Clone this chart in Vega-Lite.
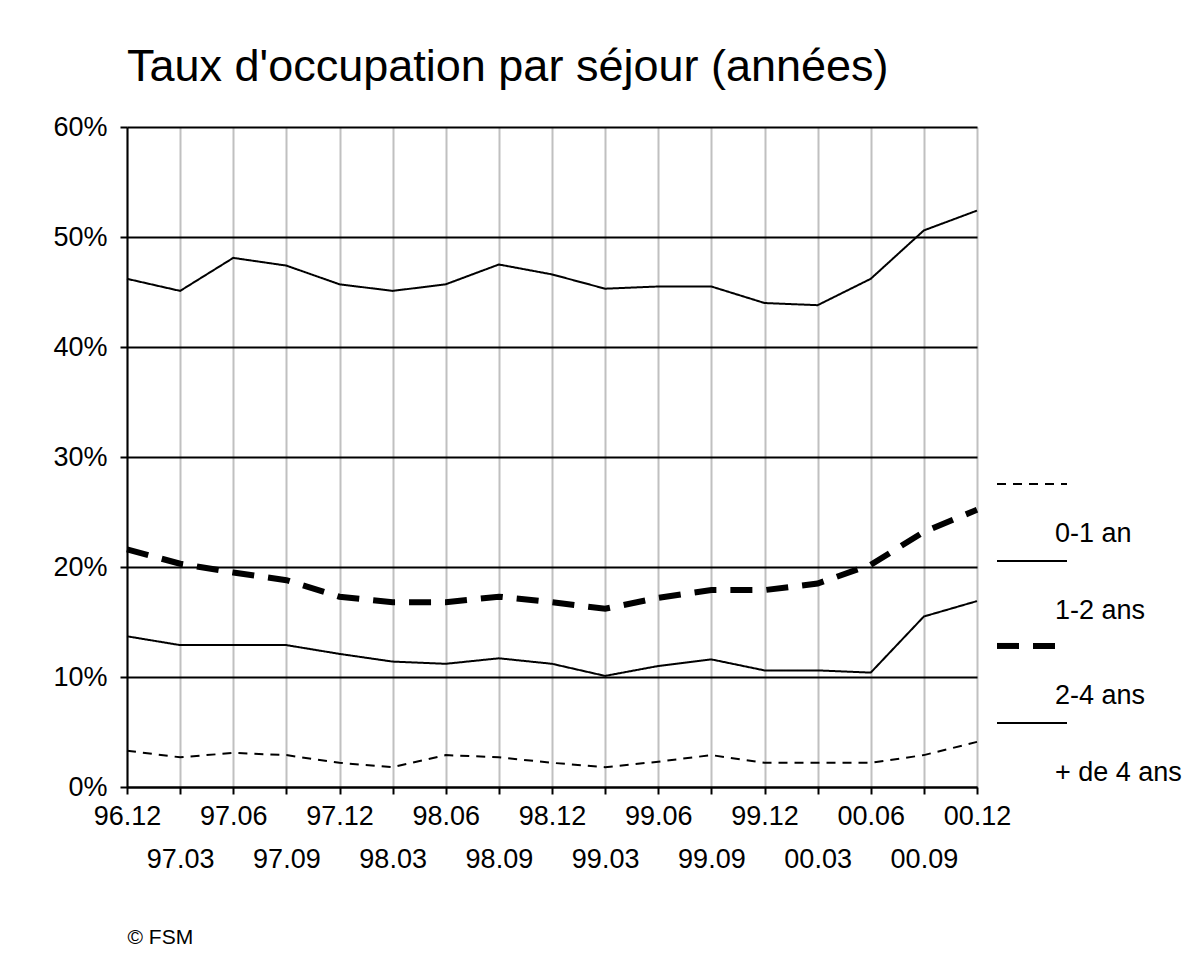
{
  "$schema": "https://vega.github.io/schema/vega-lite/v6.json",
  "width": 850,
  "height": 660,
  "autosize": {"type": "none"},
  "padding": {"left": 127, "top": 127, "right": 223, "bottom": 178},
  "background": "white",
  "config": {
    "font": "Liberation Sans",
    "view": {"stroke": null}
  },
  "title": {
    "text": "Taux d'occupation par séjour (années)",
    "anchor": "start",
    "frame": "group",
    "fontSize": 45,
    "fontWeight": "normal",
    "font": "Liberation Sans",
    "color": "black",
    "baseline": "alphabetic",
    "offset": -13
  },
  "data": {
    "values": [
      {"t": "96.12", "serie": "0-1 an", "v": 0.033},
      {"t": "97.03", "serie": "0-1 an", "v": 0.027},
      {"t": "97.06", "serie": "0-1 an", "v": 0.031},
      {"t": "97.09", "serie": "0-1 an", "v": 0.029},
      {"t": "97.12", "serie": "0-1 an", "v": 0.022},
      {"t": "98.03", "serie": "0-1 an", "v": 0.018},
      {"t": "98.06", "serie": "0-1 an", "v": 0.029},
      {"t": "98.09", "serie": "0-1 an", "v": 0.027},
      {"t": "98.12", "serie": "0-1 an", "v": 0.022},
      {"t": "99.03", "serie": "0-1 an", "v": 0.018},
      {"t": "99.06", "serie": "0-1 an", "v": 0.023},
      {"t": "99.09", "serie": "0-1 an", "v": 0.029},
      {"t": "99.12", "serie": "0-1 an", "v": 0.022},
      {"t": "00.03", "serie": "0-1 an", "v": 0.022},
      {"t": "00.06", "serie": "0-1 an", "v": 0.022},
      {"t": "00.09", "serie": "0-1 an", "v": 0.029},
      {"t": "00.12", "serie": "0-1 an", "v": 0.041},
      {"t": "96.12", "serie": "1-2 ans", "v": 0.137},
      {"t": "97.03", "serie": "1-2 ans", "v": 0.129},
      {"t": "97.06", "serie": "1-2 ans", "v": 0.129},
      {"t": "97.09", "serie": "1-2 ans", "v": 0.129},
      {"t": "97.12", "serie": "1-2 ans", "v": 0.121},
      {"t": "98.03", "serie": "1-2 ans", "v": 0.114},
      {"t": "98.06", "serie": "1-2 ans", "v": 0.112},
      {"t": "98.09", "serie": "1-2 ans", "v": 0.117},
      {"t": "98.12", "serie": "1-2 ans", "v": 0.112},
      {"t": "99.03", "serie": "1-2 ans", "v": 0.101},
      {"t": "99.06", "serie": "1-2 ans", "v": 0.110},
      {"t": "99.09", "serie": "1-2 ans", "v": 0.116},
      {"t": "99.12", "serie": "1-2 ans", "v": 0.106},
      {"t": "00.03", "serie": "1-2 ans", "v": 0.106},
      {"t": "00.06", "serie": "1-2 ans", "v": 0.104},
      {"t": "00.09", "serie": "1-2 ans", "v": 0.155},
      {"t": "00.12", "serie": "1-2 ans", "v": 0.169},
      {"t": "96.12", "serie": "2-4 ans", "v": 0.216},
      {"t": "97.03", "serie": "2-4 ans", "v": 0.203},
      {"t": "97.06", "serie": "2-4 ans", "v": 0.195},
      {"t": "97.09", "serie": "2-4 ans", "v": 0.188},
      {"t": "97.12", "serie": "2-4 ans", "v": 0.173},
      {"t": "98.03", "serie": "2-4 ans", "v": 0.168},
      {"t": "98.06", "serie": "2-4 ans", "v": 0.168},
      {"t": "98.09", "serie": "2-4 ans", "v": 0.173},
      {"t": "98.12", "serie": "2-4 ans", "v": 0.168},
      {"t": "99.03", "serie": "2-4 ans", "v": 0.162},
      {"t": "99.06", "serie": "2-4 ans", "v": 0.172},
      {"t": "99.09", "serie": "2-4 ans", "v": 0.179},
      {"t": "99.12", "serie": "2-4 ans", "v": 0.179},
      {"t": "00.03", "serie": "2-4 ans", "v": 0.185},
      {"t": "00.06", "serie": "2-4 ans", "v": 0.202},
      {"t": "00.09", "serie": "2-4 ans", "v": 0.232},
      {"t": "00.12", "serie": "2-4 ans", "v": 0.252},
      {"t": "96.12", "serie": "+ de 4 ans", "v": 0.462},
      {"t": "97.03", "serie": "+ de 4 ans", "v": 0.451},
      {"t": "97.06", "serie": "+ de 4 ans", "v": 0.481},
      {"t": "97.09", "serie": "+ de 4 ans", "v": 0.474},
      {"t": "97.12", "serie": "+ de 4 ans", "v": 0.457},
      {"t": "98.03", "serie": "+ de 4 ans", "v": 0.451},
      {"t": "98.06", "serie": "+ de 4 ans", "v": 0.457},
      {"t": "98.09", "serie": "+ de 4 ans", "v": 0.475},
      {"t": "98.12", "serie": "+ de 4 ans", "v": 0.466},
      {"t": "99.03", "serie": "+ de 4 ans", "v": 0.453},
      {"t": "99.06", "serie": "+ de 4 ans", "v": 0.455},
      {"t": "99.09", "serie": "+ de 4 ans", "v": 0.455},
      {"t": "99.12", "serie": "+ de 4 ans", "v": 0.440},
      {"t": "00.03", "serie": "+ de 4 ans", "v": 0.438},
      {"t": "00.06", "serie": "+ de 4 ans", "v": 0.462},
      {"t": "00.09", "serie": "+ de 4 ans", "v": 0.506},
      {"t": "00.12", "serie": "+ de 4 ans", "v": 0.524}
    ]
  },
  "mark": {"type": "line", "color": "black", "strokeCap": "butt", "strokeJoin": "miter"},
  "encoding": {
    "x": {
      "field": "t",
      "type": "ordinal",
      "sort": ["96.12","97.03","97.06","97.09","97.12","98.03","98.06","98.09","98.12","99.03","99.06","99.09","99.12","00.03","00.06","00.09","00.12"],
      "scale": {"type": "point", "padding": 0},
      "axis": {
        "title": "© FSM",
        "titleFontSize": 21,
        "titleFontWeight": "normal",
        "titleColor": "black",
        "titleAnchor": "start",
        "titleAlign": "left",
        "titleBaseline": "top",
        "titlePadding": 54,
        "labelAngle": 0,
        "labelFontSize": 27,
        "labelColor": "black",
        "labelPadding": 9,
        "labelBaseline": "top",
        "labelLineHeight": 43,
        "labelOverlap": false,
        "labelExpr": "(slice(datum.label, 3) == '03' || slice(datum.label, 3) == '09') ? ['', datum.label] : datum.label",
        "tickSize": 7,
        "tickWidth": 2,
        "tickColor": "black",
        "domainColor": "black",
        "domainWidth": 2,
        "grid": true,
        "gridColor": "#c0c0c0",
        "gridWidth": 2
      }
    },
    "y": {
      "field": "v",
      "type": "quantitative",
      "scale": {"domain": [0, 0.6], "nice": false},
      "axis": {
        "title": null,
        "format": ".0%",
        "values": [0, 0.1, 0.2, 0.3, 0.4, 0.5, 0.6],
        "labelFontSize": 27,
        "labelColor": "black",
        "labelPadding": 13,
        "tickSize": 7,
        "tickWidth": 2,
        "tickColor": "black",
        "domainColor": "black",
        "domainWidth": 2,
        "grid": true,
        "gridColor": "black",
        "gridWidth": 2
      }
    },
    "strokeDash": {
      "field": "serie",
      "type": "nominal",
      "scale": {
        "domain": ["0-1 an", "1-2 ans", "2-4 ans", "+ de 4 ans"],
        "range": [[9, 7], [1, 0], [22, 14], [1, 0]]
      },
      "legend": {
        "title": null,
        "orient": "none",
        "legendX": 867,
        "legendY": 371,
        "padding": 0,
        "symbolType": "M-1,-1.43L1,-1.43",
        "symbolSize": 4900,
        "symbolStrokeColor": "black",
        "symbolFillColor": "transparent",
        "labelFontSize": 27,
        "labelColor": "black",
        "labelBaseline": "middle",
        "labelOffset": -15,
        "labelLimit": 300,
        "rowPadding": 9
      }
    },
    "strokeWidth": {
      "field": "serie",
      "type": "nominal",
      "scale": {
        "type": "ordinal",
        "domain": ["0-1 an", "1-2 ans", "2-4 ans", "+ de 4 ans"],
        "range": [2, 2, 6, 2]
      }
    }
  }
}
